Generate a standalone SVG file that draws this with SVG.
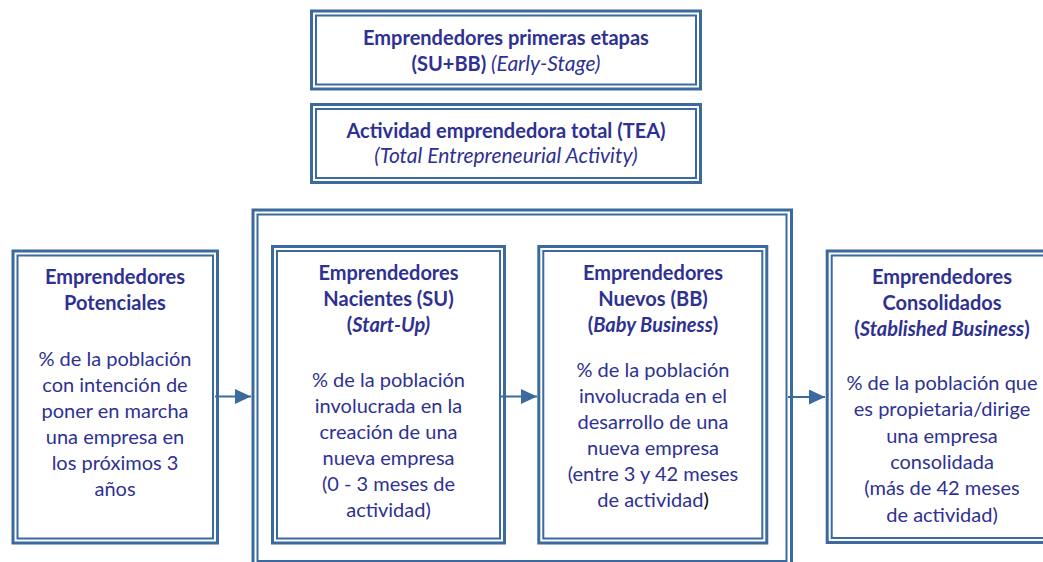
<svg xmlns="http://www.w3.org/2000/svg" width="1043" height="562" viewBox="0 0 1043 562">
<defs>
<style>
.o{fill:none;stroke:#3A6A9E;stroke-width:3}
.i{fill:none;stroke:#3A6A9E;stroke-width:2}
text{font-family:Lato,"Open Sans","Liberation Sans",sans-serif;fill:#2E3192;text-anchor:middle}
.b{font-weight:bold;font-size:20px}
.r{font-size:20px}
.it{font-style:italic}
.n{font-weight:normal;font-size:21px}
.ri{font-size:21px}
.k{fill:#000}
.c{fill:none;stroke:#3A6A9E;stroke-width:2}
</style>
<marker id="ah" markerWidth="16" markerHeight="15" refX="16" refY="7.5" orient="auto" markerUnits="userSpaceOnUse">
<path d="M0,0 L16,7.5 L0,15 Z" fill="#3A6A9E"/>
</marker>
</defs>
<rect width="1043" height="562" fill="#fff"/>

<g id="early-stage">
<rect class="o" x="311.5" y="11" width="389" height="78"/>
<rect class="i" x="316" y="15.5" width="380" height="69"/>
<text class="b" x="506" y="45">Emprendedores primeras etapas</text>
<text class="b" x="506" y="71">(SU+BB) <tspan class="it n">(Early-Stage)</tspan></text>
</g>

<g id="tea">
<rect class="o" x="311.5" y="104.5" width="389" height="78"/>
<rect class="i" x="316" y="109" width="380" height="69"/>
<text class="b" x="506" y="138">Actividad emprendedora total (TEA)</text>
<text class="ri it" x="506" y="163">(Total Entrepreneurial Activity)</text>
</g>

<g id="tea-frame">
<rect class="o" x="253" y="210" width="538.5" height="356"/>
<rect class="i" x="257.5" y="214.5" width="529" height="346.5"/>
</g>

<g id="potenciales">
<rect class="o" x="13" y="251" width="204.5" height="292"/>
<rect class="i" x="17.5" y="255.5" width="195.5" height="283"/>
<text class="b" x="115" y="284">Emprendedores</text>
<text class="b" x="115" y="310">Potenciales</text>
<text class="r" x="115" y="365.5">% de la población</text>
<text class="r" x="115" y="391.5">con intención de</text>
<text class="r" x="115" y="417.5">poner en marcha</text>
<text class="r" x="115" y="443.5">una empresa en</text>
<text class="r" x="115" y="469.5">los próximos 3</text>
<text class="r" x="115" y="495.5">años</text>
</g>

<g id="nacientes">
<rect class="o" x="272.5" y="246.5" width="232" height="296.5"/>
<rect class="i" x="277" y="251" width="223" height="287.5"/>
<text class="b" x="388.5" y="280">Emprendedores</text>
<text class="b" x="388.5" y="306">Nacientes (SU)</text>
<text class="b" x="388.5" y="332">(<tspan class="it">Start-Up)</tspan></text>
<text class="r" x="388.5" y="387">% de la población</text>
<text class="r" x="388.5" y="413">involucrada en la</text>
<text class="r" x="388.5" y="439">creación de una</text>
<text class="r" x="388.5" y="465">nueva empresa</text>
<text class="r" x="388.5" y="491">(0 - 3 meses de</text>
<text class="r" x="388.5" y="517">actividad)</text>
</g>

<g id="nuevos">
<rect class="o" x="538.8" y="246.5" width="228" height="296.5"/>
<rect class="i" x="543.3" y="251" width="219" height="287.5"/>
<text class="b" x="653" y="280">Emprendedores</text>
<text class="b" x="653" y="306">Nuevos (BB)</text>
<text class="b" x="653" y="332">(<tspan class="it">Baby Business</tspan>)</text>
<text class="r" x="653" y="377">% de la población</text>
<text class="r" x="653" y="403">involucrada en el</text>
<text class="r" x="653" y="429">desarrollo de una</text>
<text class="r" x="653" y="455">nueva empresa</text>
<text class="r" x="653" y="481">(entre 3 y 42 meses</text>
<text class="r" x="653" y="507">de actividad<tspan class="k">)</tspan></text>
</g>

<g id="consolidados">
<rect class="o" x="827.2" y="251" width="230" height="291.5"/>
<rect class="i" x="831.7" y="255.5" width="221" height="282.5"/>
<text class="b" x="942" y="283.5">Emprendedores</text>
<text class="b" x="942" y="310">Consolidados</text>
<text class="b" x="942" y="336">(<tspan class="it">Stablished Business</tspan>)</text>
<text class="r" x="942" y="389.5">% de la población que</text>
<text class="r" x="942" y="416">es propietaria/dirige</text>
<text class="r" x="942" y="442.5">una empresa</text>
<text class="r" x="942" y="469">consolidada</text>
<text class="r" x="942" y="495">(más de 42 meses</text>
<text class="r" x="942" y="521.5">de actividad)</text>
</g>

<g id="connectors">
<line class="c" x1="215" y1="396.5" x2="251" y2="396.5" marker-end="url(#ah)"/>
<line class="c" x1="501" y1="396.5" x2="537" y2="396.5" marker-end="url(#ah)"/>
<line class="c" x1="788" y1="397" x2="825" y2="397" marker-end="url(#ah)"/>
</g>
</svg>
